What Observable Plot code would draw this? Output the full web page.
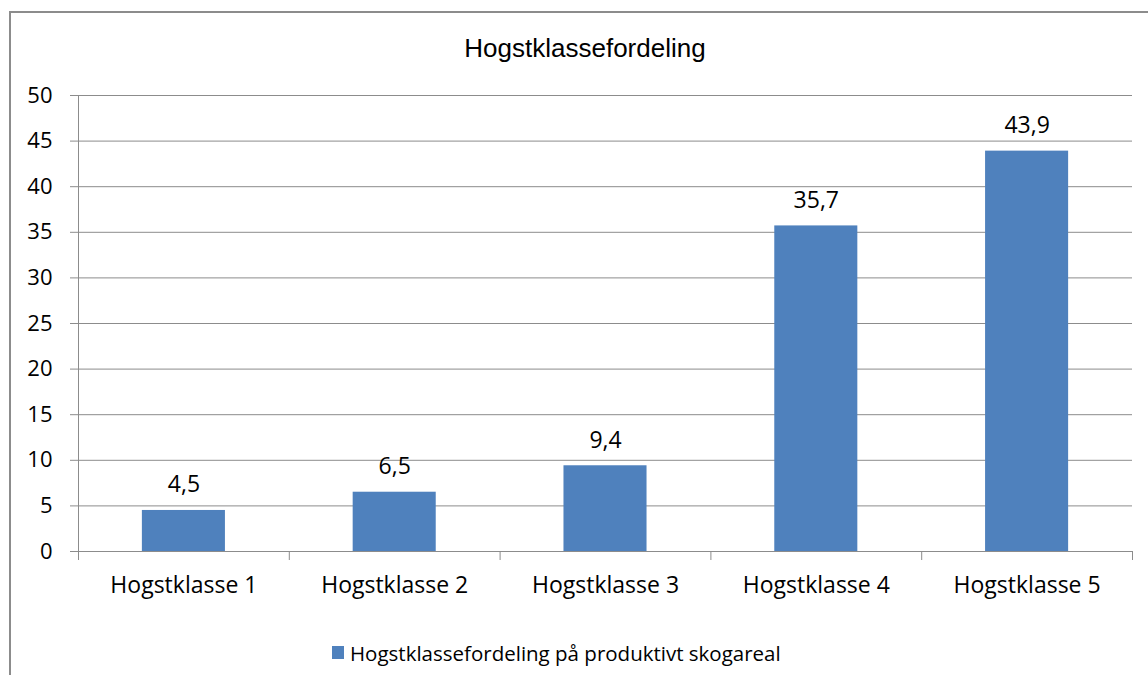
<!DOCTYPE html>
<html>
<head>
<meta charset="utf-8">
<script src="https://cdn.jsdelivr.net/npm/d3@7"></script>
<script src="https://cdn.jsdelivr.net/npm/@observablehq/plot@0.6"></script>
<style>
  html, body { margin: 0; padding: 0; background: #fff; width: 1148px; height: 675px; overflow: hidden; }
  #frame { position: absolute; left: 9px; top: 11px; width: 1300px; height: 800px;
           border-left: 2px solid #8c8c8c; border-top: 2px solid #8c8c8c; box-sizing: border-box; }
  #chart { position: absolute; left: 0; top: 0; width: 1148px; }
  #title { height: 80px; box-sizing: border-box; padding-top: 32px; padding-left: 22px; line-height: 32px;
           text-align: center; font-family: "Liberation Sans", Arial, sans-serif; font-size: 26px; color: #000; }
  #legend { height: 95px; box-sizing: border-box; padding-top: 50px; padding-left: 332px; line-height: 24px;
            font-family: "Open Sans", sans-serif; font-size: 20.5px; color: #000; display: flex; align-items: center; }
  #legend .sw { display: inline-block; width: 12px; height: 13px; background: #4F81BD; margin-right: 6px; }
</style>
</head>
<body>
<div id="frame"></div>
<div id="chart">
  <div id="title">Hogstklassefordeling</div>
  <div id="plot"></div>
  <div id="legend"><span class="sw"></span><span>Hogstklassefordeling på produktivt skogareal</span></div>
</div>
<script>
const categories = ["Hogstklasse 1", "Hogstklasse 2", "Hogstklasse 3", "Hogstklasse 4", "Hogstklasse 5"];
const values = [4.5, 6.5, 9.4, 35.7, 43.9];
const yTicks = [0, 5, 10, 15, 20, 25, 30, 35, 40, 45, 50];
const seriesName = "Hogstklassefordeling på produktivt skogareal";

const data = categories.map((c, i) => ({ category: c, index: i, value: values[i] }));
const barColor = "#4F81BD";
const gridColor = "#8c8c8c";
const fmt = v => v.toFixed(1).replace(".", ",");

const chart = Plot.plot({
  width: 1148,
  height: 500,
  marginLeft: 78,
  marginRight: 16,
  marginTop: 15,
  marginBottom: 29,
  style: { fontFamily: "'Open Sans', sans-serif", fontSize: "23px", color: "#000", background: "transparent", overflow: "visible" },
  x: { type: "linear", domain: [0, categories.length] },
  y: { domain: [0, 50] },
  marks: [
    Plot.gridY(yTicks, { stroke: gridColor, strokeOpacity: 1, strokeWidth: 1 }),
    Plot.axisY({ ticks: yTicks, tickSize: 8, tickPadding: 18, stroke: gridColor, strokeOpacity: 1, label: null, fill: "#000", fontSize: 22 }),
    Plot.rectY(data, { x1: d => d.index + 0.303, x2: d => d.index + 0.697, y1: 0, y2: "value", fill: barColor }),
    Plot.ruleX([0], { stroke: gridColor, strokeWidth: 1 }),
    Plot.ruleY([0], { stroke: gridColor, strokeWidth: 1 }),
    Plot.axisX({ ticks: d3.range(categories.length + 1), tickSize: 9, tickFormat: () => "", stroke: gridColor, strokeOpacity: 1, label: null }),
    Plot.axisX({ ticks: categories.map((c, i) => i + 0.5), tickSize: 0, tickPadding: 25, tickFormat: d => categories[Math.floor(d)], label: null, fill: "#000", fontSize: 23 }),
    Plot.text(data, { x: d => d.index + 0.5, y: "value", text: d => fmt(d.value), lineAnchor: "bottom", dy: -18, fill: "#000", fontSize: 23 })
  ]
});
document.getElementById("plot").appendChild(chart);
</script>
</body>
</html>
